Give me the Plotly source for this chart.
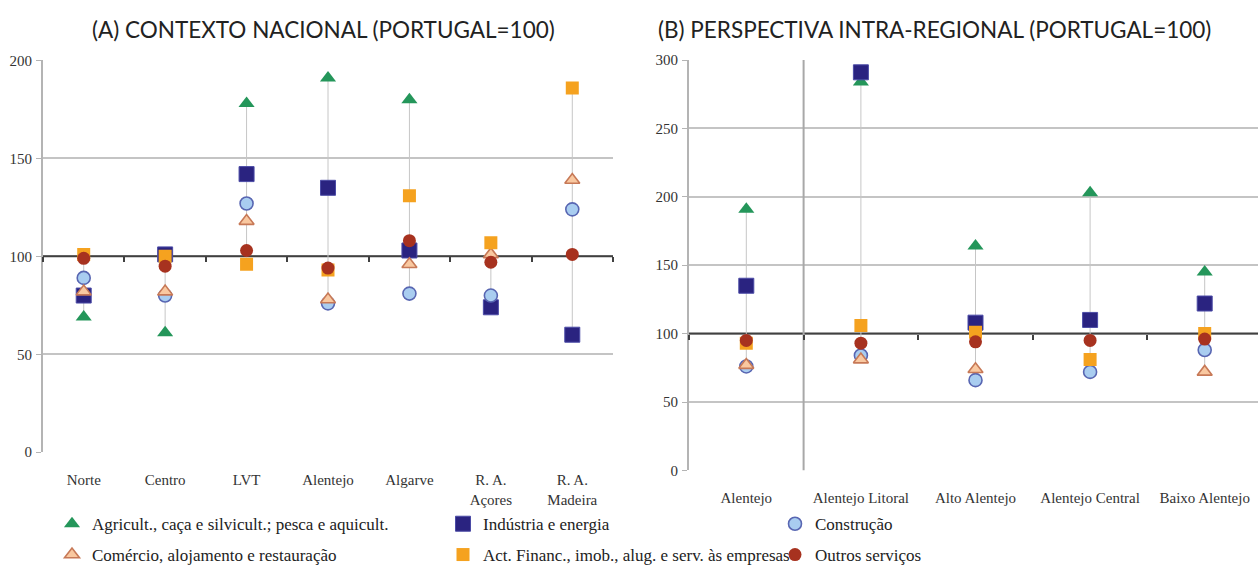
import plotly.graph_objects as go

# ---- data -------------------------------------------------------------
regions_a = ["Norte", "Centro", "LVT", "Alentejo", "Algarve",
             "R. A.<br>Açores", "R. A.<br>Madeira"]
agric_a = [69, 61, 178, 191, 180, None, None]
industria_a = [80, 101, 142, 135, 103, 74, 60]
construcao_a = [89, 80, 127, 76, 81, 80, 124]
comercio_a = [82, 82, 118, 78, 96, 101, 139]
financ_a = [101, 100, 96, 93, 131, 107, 186]
outros_a = [99, 95, 103, 94, 108, 97, 101]

regions_b = ["Alentejo", "Alentejo Litoral", "Alto Alentejo",
             "Alentejo Central", "Baixo Alentejo"]
agric_b = [191, 284, 164, 203, 145]
industria_b = [135, 291, 108, 110, 122]
construcao_b = [76, 84, 66, 72, 88]
comercio_b = [77, 81, 74, None, 72]
financ_b = [93, 106, 101, 81, 100]
outros_b = [95, 93, 94, 95, 96]

series_names = [
    "Agricult., caça e silvicult.; pesca e aquicult.",
    "Indústria e energia",
    "Construção",
    "Comércio, alojamento e restauração",
    "Act. Financ., imob., alug. e serv. às empresas",
    "Outros serviços",
]
values_a = [agric_a, industria_a, construcao_a, comercio_a, financ_a, outros_a]
values_b = [agric_b, industria_b, construcao_b, comercio_b, financ_b, outros_b]

# ---- styles -----------------------------------------------------------
markers = [
    dict(symbol="triangle-up", size=14, color="#24965a", line=dict(width=0)),
    dict(symbol="square", size=15, color="#2a2380", line=dict(width=1, color="#4b4ba6")),
    dict(symbol="circle", size=13, color="#a9cdf0", line=dict(width=1.6, color="#5866b2")),
    dict(symbol="triangle-up", size=13, color="#f9c8a0", line=dict(width=1.6, color="#c77957")),
    dict(symbol="square", size=13, color="#f5a21f", line=dict(width=0)),
    dict(symbol="circle", size=13, color="#a7321f", line=dict(width=0)),
]
legend_pos = [
    (52, 531), (443, 531), (775, 531),
    (52, 563), (443, 563), (775, 563),
]

W, H = 1258, 573
SERIF = "Liberation Serif"
TICK_FONT = dict(family=SERIF, size=15, color="#333333")


def px_x(p):
    return p / W


def px_y(p):
    return 1 - p / H


fig = go.Figure()


def range_lines(values, xaxis, yaxis):
    """Thin vertical high-low lines from the min to the max value per category."""
    xs, ys = [], []
    n = len(values[0])
    for i in range(n):
        col = [v[i] for v in values if v[i] is not None]
        xs += [i, i, None]
        ys += [min(col), max(col), None]
    fig.add_trace(go.Scatter(x=xs, y=ys, mode="lines", xaxis=xaxis, yaxis=yaxis,
                             line=dict(color="#c6c6c6", width=1),
                             hoverinfo="skip", showlegend=False))


range_lines(values_a, "x", "y")
range_lines(values_b, "x2", "y2")

for k, name in enumerate(series_names):
    fig.add_trace(go.Scatter(
        x=list(range(len(regions_a))), y=values_a[k], mode="markers",
        marker=markers[k], name=name, xaxis="x", yaxis="y",
        legend="legend" if k == 0 else f"legend{k + 1}", showlegend=True))
    fig.add_trace(go.Scatter(
        x=list(range(len(regions_b))), y=values_b[k], mode="markers",
        marker=markers[k], name=name, xaxis="x2", yaxis="y2", showlegend=False))

# invisible traces so the tick-only axes at 100 are drawn
fig.add_trace(go.Scatter(x=[None], y=[None], xaxis="x3", yaxis="y", showlegend=False))
fig.add_trace(go.Scatter(x=[None], y=[None], xaxis="x4", yaxis="y2", showlegend=False))

# ---- axes -------------------------------------------------------------
dom_xa = [px_x(43), px_x(613)]
dom_ya = [px_y(457), px_y(54)]
dom_xb = [px_x(689), 1.0]
dom_yb = [px_y(475.7), px_y(53.5)]

na, nb = len(regions_a), len(regions_b)
range_xa = [-0.5, na - 0.5]
range_xb = [-0.5, -0.5 + (W - 689) / 114.6]

common_x = dict(showgrid=False, zeroline=False, showline=False, ticks="",
                tickfont=TICK_FONT, ticklabelstandoff=17, fixedrange=True)
common_y = dict(showgrid=True, gridcolor="#c4c4c4", gridwidth=1.5, zeroline=False,
                showline=True, linecolor="#b4b4b4", linewidth=2,
                ticks="outside", ticklen=5, tickcolor="#b4b4b4", tickwidth=1,
                tickfont=dict(family=SERIF, size=15, color="#333333"),
                ticklabelstandoff=1)

tick_axis = dict(showgrid=False, zeroline=False, showline=False, anchor="free",
                 ticks="outside", ticklen=5, tickwidth=2, tickcolor="#404040",
                 showticklabels=False, side="bottom")

y100_a = dom_ya[0] + (dom_ya[1] - dom_ya[0]) * 100 / 200
y100_b = dom_yb[0] + (dom_yb[1] - dom_yb[0]) * 100 / 300

fig.update_layout(
    width=W, height=H,
    margin=dict(l=0, r=0, t=0, b=0),
    paper_bgcolor="white", plot_bgcolor="white",
    xaxis=dict(domain=dom_xa, range=range_xa, anchor="y",
               tickvals=list(range(na)), ticktext=regions_a, **common_x),
    yaxis=dict(domain=dom_ya, range=[0, 200], anchor="x",
               tickvals=[0, 50, 100, 150, 200], **common_y),
    xaxis2=dict(domain=dom_xb, range=range_xb, anchor="y2",
                tickvals=list(range(nb)), ticktext=regions_b, **common_x),
    yaxis2=dict(domain=dom_yb, range=[0, 300], anchor="x2",
                tickvals=[0, 50, 100, 150, 200, 250, 300], **common_y),
    xaxis3=dict(overlaying="x", range=range_xa, position=y100_a,
                tickvals=[i - 0.5 for i in range(na + 1)], **tick_axis),
    xaxis4=dict(overlaying="x2", range=range_xb, position=y100_b,
                tickvals=[i - 0.5 for i in range(nb + 1)], **tick_axis),
    showlegend=True,
)

# legends: one entry each, laid out in a 3 x 2 grid
for k, (lx, ly) in enumerate(legend_pos):
    key = "legend" if k == 0 else f"legend{k + 1}"
    fig.update_layout(**{key: dict(
        x=px_x(lx), y=px_y(ly), xanchor="left", yanchor="middle",
        bgcolor="rgba(0,0,0,0)", borderwidth=0,
        font=dict(family=SERIF, size=17, color="#222222"),
        itemwidth=30, tracegroupgap=0)})

# reference line at 100 and the separator in the intra-regional panel
fig.add_shape(type="line", xref="x", yref="y", x0=range_xa[0], x1=range_xa[1],
              y0=100, y1=100, line=dict(color="#404040", width=2), layer="between")
fig.add_shape(type="line", xref="x2", yref="y2", x0=range_xb[0], x1=range_xb[1],
              y0=100, y1=100, line=dict(color="#404040", width=2), layer="between")
fig.add_shape(type="line", xref="x2", yref="y2", x0=0.5, x1=0.5, y0=0, y1=300,
              line=dict(color="#a8a8a8", width=2), layer="between")

# panel titles
TITLE_FONT = dict(family="Lato", size=22.5, color="#222222")
fig.add_annotation(text="(A) CONTEXTO NACIONAL (PORTUGAL=100)", x=px_x(323), y=px_y(22),
                   xref="paper", yref="paper", showarrow=False, font=TITLE_FONT,
                   xanchor="center", yanchor="middle")
fig.add_annotation(text="(B) PERSPECTIVA INTRA-REGIONAL (PORTUGAL=100)", x=px_x(934),
                   y=px_y(22), xref="paper", yref="paper", showarrow=False,
                   font=TITLE_FONT, xanchor="center", yanchor="middle")

fig.write_html("out.html")
